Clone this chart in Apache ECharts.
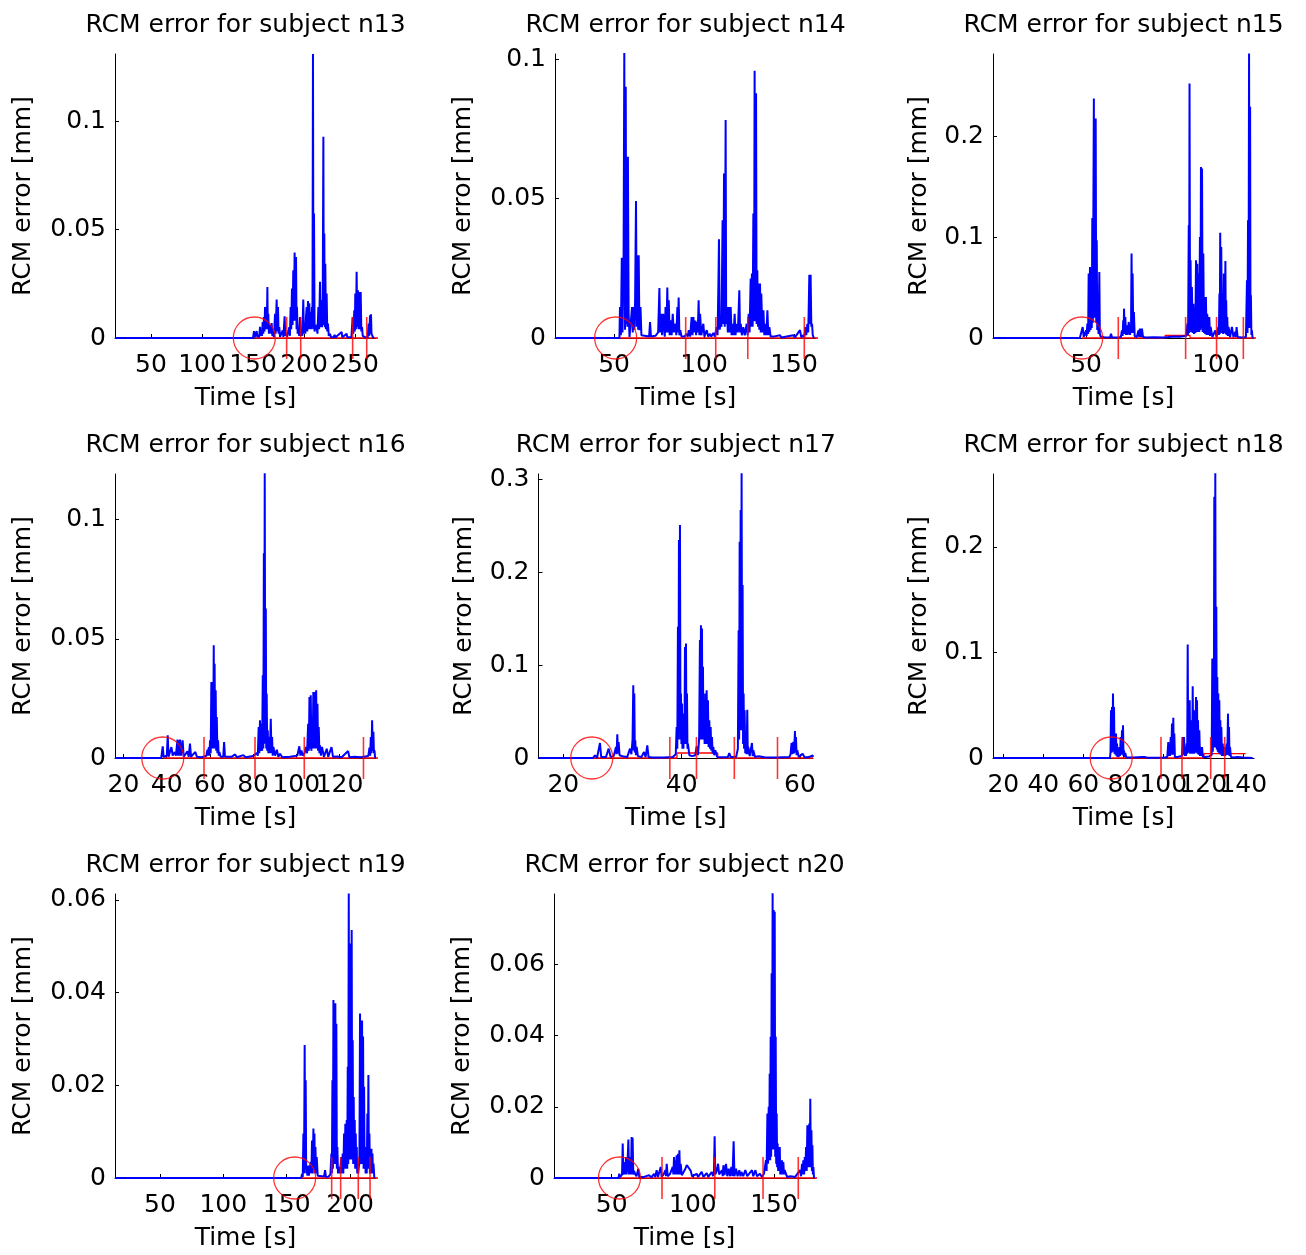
<!DOCTYPE html>
<html>
<head>
<meta charset="utf-8">
<script src="https://cdn.jsdelivr.net/npm/echarts@6/dist/echarts.min.js"></script>
<style>
  html, body { margin: 0; padding: 0; background: #ffffff; }
  #chart { width: 1306px; height: 1255px; }
</style>
</head>
<body>
<div id="chart"></div>
<script>
// ---- RCM error traces, [time s, error mm] ----
const n13 = [[14.7,0],[150,0],[151.0,0.0032],[151.6,0.0003],[152.3,0.001],[153.0,0.0002],[153.6,0.0032],[154.3,0.0003],[155.2,0.0015],[156,0.0003],[156.9,0.0051],[157.5,0.001],[158.2,0.003],[158.8,0.001],[159.5,0.0074],[160.1,0.002],[160.8,0.0097],[161.3,0.003],[161.8,0.0143],[162.4,0.004],[163.0,0.0143],[163.5,0.004],[164.1,0.0235],[164.5,0.004],[165.0,0.0112],[165.6,0.002],[166.2,0.006],[166.7,0.0051],[167.4,0.002],[168.3,0.0069],[169,0.001],[169.8,0.002],[170.6,0.0005],[171.6,0.0112],[172.2,0.002],[173.2,0.0177],[173.8,0.003],[174.5,0.0143],[175.1,0.002],[175.8,0.005],[176.5,0.0005],[177.5,0.001],[179.1,0.0035],[179.8,0.0005],[181.0,0.01],[181.6,0.001],[182.5,0.002],[183.5,0.0005],[184.5,0.003],[185.6,0.005],[186.2,0.001],[186.9,0.0143],[187.5,0.004],[188.2,0.0228],[188.8,0.006],[189.5,0.0312],[190.1,0.008],[190.8,0.0394],[191.5,0.008],[192.2,0.0374],[192.7,0.004],[193.1,0.0143],[193.8,0.002],[194.5,0.005],[195.3,0.001],[196.1,0.0097],[196.8,0.001],[197.6,0.004],[198.4,0.001],[199.3,0.0177],[199.9,0.002],[200.6,0.007],[201.3,0.002],[202.0,0.01],[202.6,0.0143],[203.2,0.003],[203.9,0.0171],[204.5,0.004],[205.2,0.016],[205.8,0.004],[206.5,0.012],[207.2,0.004],[207.8,0.0143],[208.3,0.005],[208.8,0.131],[209.3,0.004],[209.8,0.0574],[210.4,0.003],[211.3,0.006],[212.4,0.005],[213.2,0.002],[214.1,0.0143],[214.8,0.004],[215.7,0.0259],[216.3,0.005],[217.0,0.0174],[217.6,0.005],[218.3,0.01],[219.0,0.0928],[219.4,0.006],[219.9,0.0482],[220.4,0.005],[220.9,0.0343],[221.5,0.004],[222.2,0.0205],[222.8,0.003],[223.5,0.0066],[224.3,0.001],[225.5,0.002],[226.5,0.0003],[229,0.0003],[230,0.0015],[231,0.0003],[236.9,0.0028],[237.6,0.0003],[239.5,0.0006],[241.8,0.002],[242.5,0.0003],[246.5,0.0005],[247.7,0.0097],[248.4,0.002],[249.3,0.0128],[249.8,0.003],[250.3,0.0205],[250.9,0.004],[251.6,0.0305],[252.2,0.005],[252.9,0.022],[253.5,0.004],[254.2,0.0212],[254.9,0.004],[255.6,0.0212],[256.2,0.003],[256.9,0.005],[257.6,0.001],[258.8,0.0015],[260,0.0003],[261.5,0.0008],[262.5,0.0003],[263.4,0.0066],[264.0,0.001],[264.7,0.0105],[265.2,0.002],[265.7,0.0109],[266.2,0.002],[266.7,0.0025],[267.5,0.0005],[268.6,0]];

const n14 = [[17.2,0],[50.0,0],[50.4,0.0006],[51,0],[53.0,0],[53.3,0.0111],[53.8,0.001],[54.3,0.0288],[54.7,0.002],[55.3,0.0288],[55.7,0.1023],[56.1,0.003],[56.5,0.0901],[56.8,0.005],[57.1,0.065],[57.4,0.004],[57.7,0.065],[58.1,0.0087],[58.6,0.0004],[59.5,0.001],[60.0,0.0111],[60.4,0.002],[60.9,0.0111],[61.3,0.003],[61.7,0.0135],[62.2,0.0491],[62.6,0.004],[63.0,0.0297],[63.4,0.003],[63.7,0.0297],[64.1,0.0028],[64.7,0.0111],[65.2,0.001],[66.3,0.0005],[69.5,0.0005],[70.0,0.0057],[70.5,0.0005],[73,0.0008],[74.5,0.002],[75.2,0.0179],[75.6,0.002],[76.2,0.0087],[76.7,0.001],[77.3,0.0087],[77.8,0.0039],[78.2,0.0005],[78.6,0.0111],[79.1,0.002],[79.6,0.0181],[80.0,0.002],[80.4,0.0135],[80.9,0.001],[81.5,0.0063],[82,0.001],[82.6,0.0087],[83.2,0.002],[84.1,0.0051],[84.6,0.001],[85.2,0.0111],[85.5,0.002],[85.9,0.0145],[86.3,0.001],[86.8,0.0028],[87.5,0.0005],[89,0.0005],[90.4,0.0015],[91,0.0005],[91.5,0.0028],[92.3,0.0005],[93.1,0.0075],[93.6,0.001],[94.1,0.0075],[94.6,0.002],[95.2,0.0063],[95.6,0.001],[96.0,0.0057],[96.5,0.002],[97.0,0.0135],[97.4,0.001],[97.8,0.0087],[98.5,0.001],[99.6,0.0051],[100.2,0.0005],[101.5,0.0028],[102.3,0.0005],[103.3,0.0015],[104,0.0005],[105.2,0.0018],[106,0.0005],[107.0,0.0039],[107.5,0.001],[108.0,0.02],[108.3,0.0354],[108.7,0.003],[109.2,0.0057],[109.7,0.004],[110.3,0.0422],[110.7,0.005],[111.1,0.059],[111.5,0.004],[112.0,0.0781],[112.3,0.005],[112.7,0.0111],[113.2,0.002],[113.7,0.0111],[114.2,0.002],[114.8,0.0111],[115.3,0.001],[115.9,0.0051],[116.4,0.001],[117.0,0.0087],[117.5,0.001],[118.1,0.0051],[118.8,0.002],[119.6,0.0171],[120.0,0.002],[120.4,0.0051],[121.0,0.001],[121.8,0.0039],[122.6,0.001],[123.7,0.0051],[124.2,0.001],[124.8,0.0087],[125.3,0.002],[125.9,0.0213],[126.2,0.004],[126.6,0.0231],[127.0,0.004],[127.4,0.0446],[127.8,0.006],[128.1,0.0958],[128.5,0.006],[128.9,0.0877],[129.2,0.005],[129.6,0.0243],[130.0,0.004],[130.3,0.0195],[130.7,0.003],[131.1,0.0195],[131.5,0.002],[131.8,0.0159],[132.4,0.002],[133.0,0.0099],[133.5,0.001],[134.1,0.0051],[134.6,0.001],[135.2,0.0099],[135.7,0.001],[136.3,0.0039],[137,0.0005],[137.4,0.001],[138.5,0.0005],[142.2,0.001],[143,0.0002],[149.6,0.001],[150.5,0.0002],[153.3,0.0028],[154,0.0003],[155.2,0.001],[155.7,0.0002],[156.3,0.0039],[156.8,0.001],[157.4,0.0051],[157.9,0.002],[158.5,0.0227],[158.8,0.005],[159.2,0.0227],[159.6,0.004],[160.0,0.0051],[160.4,0.001],[160.7,0.0004],[161,0]];

const n15 = [[14.2,0],[47.6,0],[48.3,0.001],[48.7,0.0109],[49.1,0.001],[49.6,0.002],[50.0,0.0076],[50.2,0.002],[50.5,0.0142],[50.8,0.004],[51.0,0.0638],[51.25,0.006],[51.5,0.0704],[51.75,0.008],[52.0,0.044],[52.2,0.01],[52.4,0.119],[52.6,0.015],[52.8,0.119],[53.0,0.2374],[53.15,0.02],[53.3,0.163],[53.5,0.02],[53.7,0.2176],[53.9,0.015],[54.1,0.0969],[54.3,0.008],[54.5,0.024],[54.8,0.004],[55.1,0.0655],[55.3,0.004],[55.6,0.0015],[57,0.0008],[59.2,0.0005],[59.6,0.0043],[60,0.0005],[62.5,0.0005],[63.4,0.001],[63.8,0.0076],[64.05,0.002],[64.3,0.0175],[64.45,0.004],[64.6,0.0291],[64.85,0.004],[65.1,0.0208],[65.35,0.003],[65.6,0.0126],[66.0,0.003],[66.4,0.0159],[66.9,0.003],[67.3,0.01],[67.5,0.0837],[67.7,0.005],[67.9,0.0638],[68.15,0.005],[68.4,0.0258],[68.7,0.002],[69.5,0.001],[70.2,0.0076],[70.45,0.001],[70.7,0.0093],[71.1,0.001],[71.5,0.0093],[71.9,0.001],[73,0.0005],[76,0.0008],[80,0.0005],[84,0.0015],[86,0.0012],[88.5,0.002],[89.0,0.0142],[89.25,0.003],[89.5,0.1118],[89.65,0.005],[89.8,0.2523],[90.0,0.008],[90.2,0.077],[90.45,0.006],[90.7,0.0506],[91.0,0.005],[91.3,0.034],[91.55,0.004],[91.8,0.0307],[92.05,0.005],[92.3,0.077],[92.55,0.006],[92.8,0.0737],[93.05,0.006],[93.3,0.0638],[93.55,0.006],[93.8,0.1002],[94.0,0.008],[94.2,0.1696],[94.4,0.01],[94.6,0.168],[94.85,0.006],[95.1,0.0837],[95.35,0.005],[95.6,0.0407],[95.85,0.004],[96.1,0.0407],[96.35,0.003],[96.6,0.024],[97.0,0.003],[97.4,0.0208],[97.65,0.002],[97.9,0.0109],[98.6,0.001],[99.7,0.0076],[100.2,0.001],[100.9,0.0109],[101.1,0.003],[101.3,0.044],[101.45,0.004],[101.6,0.1042],[101.8,0.006],[102.0,0.0903],[102.25,0.005],[102.5,0.044],[102.75,0.004],[103.0,0.0638],[103.3,0.005],[103.6,0.0764],[103.75,0.004],[103.9,0.0374],[104.1,0.003],[104.3,0.0208],[104.55,0.002],[104.8,0.0109],[105.4,0.001],[106.1,0.0109],[106.7,0.001],[107.4,0.006],[107.65,0.001],[107.9,0.0109],[108.3,0.001],[110,0.0005],[111.5,0.001],[111.9,0.0572],[112.1,0.005],[112.3,0.1167],[112.5,0.01],[112.7,0.2821],[112.9,0.02],[113.1,0.2292],[113.25,0.01],[113.4,0.0423],[113.6,0.003],[113.8,0.0076],[114.0,0.001],[114.3,0]];

const n16 = [[16.1,0],[37.5,0],[37.9,0.0005],[38.2,0.0049],[38.6,0.0005],[39.5,0.001],[40.1,0.001],[40.5,0.0095],[40.9,0.0005],[41.6,0.001],[42.2,0.0046],[42.8,0.001],[43.7,0.0025],[44.3,0.001],[45.0,0.0077],[45.3,0.001],[45.6,0.0074],[45.9,0.001],[46.2,0.0077],[46.7,0.001],[47.4,0.0074],[47.9,0.0005],[48.8,0.001],[49.6,0.0028],[50.2,0.0005],[50.8,0.006],[51.3,0.0005],[52.2,0.0015],[53.3,0.0025],[54,0.0005],[56,0.0003],[58.3,0.0008],[58.9,0.0035],[59.2,0.001],[59.5,0.0046],[59.8,0.001],[60.1,0.0074],[60.4,0.002],[60.7,0.0319],[61.0,0.004],[61.3,0.0319],[61.55,0.004],[61.8,0.0473],[62.0,0.005],[62.2,0.0396],[62.45,0.004],[62.7,0.0284],[62.95,0.003],[63.2,0.0172],[63.5,0.002],[63.8,0.0074],[64.1,0.001],[64.4,0.0025],[65,0.0005],[66.2,0.0005],[66.6,0.0067],[67,0.0005],[70,0.0005],[71.7,0.0015],[72.5,0.0003],[75.5,0.0012],[76.5,0.0003],[80,0.0008],[81.7,0.0021],[82.2,0.001],[82.6,0.013],[82.9,0.002],[83.2,0.0158],[83.55,0.003],[83.9,0.0144],[84.2,0.003],[84.5,0.0347],[84.75,0.004],[85.0,0.0859],[85.2,0.006],[85.4,0.1195],[85.65,0.006],[85.9,0.0627],[86.1,0.004],[86.3,0.027],[86.55,0.003],[86.8,0.0116],[87.1,0.002],[87.4,0.0088],[87.8,0.002],[88.2,0.0165],[88.5,0.002],[88.8,0.0088],[89.1,0.001],[89.4,0.0046],[90.2,0.001],[91.0,0.0035],[91.7,0.0005],[92.5,0.0018],[93.5,0.0003],[97,0.0005],[100.5,0.001],[101.4,0.0049],[101.9,0.001],[102.4,0.0032],[103,0.001],[103.8,0.002],[104.5,0.0046],[105.0,0.002],[105.5,0.0144],[105.8,0.003],[106.1,0.0256],[106.4,0.004],[106.7,0.0263],[107.0,0.003],[107.3,0.0158],[107.6,0.004],[107.9,0.0277],[108.2,0.004],[108.5,0.0277],[108.85,0.004],[109.2,0.0284],[109.5,0.004],[109.8,0.0228],[110.1,0.003],[110.4,0.013],[110.7,0.002],[111.0,0.0053],[111.4,0.001],[111.9,0.0046],[112.8,0.0005],[114.1,0.0039],[114.8,0.0005],[116.3,0.0046],[117,0.0005],[119,0.0006],[121,0.0003],[124.0,0.0029],[124.6,0.0003],[127,0.0005],[130,0.0003],[133.3,0.0008],[133.9,0.0043],[134.2,0.001],[134.5,0.0088],[134.8,0.002],[135.1,0.0158],[135.4,0.003],[135.7,0.011],[135.95,0.002],[136.2,0.0032],[136.5,0]];

const n17 = [[15.8,0],[19.8,0],[20.0,0.0008],[20.2,0],[25.0,0],[25.35,0.0029],[25.7,0.0003],[26.0,0.001],[26.19,0.0162],[26.4,0.001],[27.2,0.001],[27.66,0.0101],[28.0,0.001],[28.5,0.002],[28.9,0.0119],[29.0,0.004],[29.12,0.0255],[29.23,0.005],[29.35,0.0173],[29.5,0.003],[29.8,0.004],[30.2,0.0015],[30.8,0.001],[31.26,0.0101],[31.5,0.004],[31.7,0.02],[31.82,0.0784],[31.9,0.008],[31.99,0.0694],[32.08,0.006],[32.16,0.0191],[32.27,0.003],[32.39,0.0119],[32.6,0.002],[33.2,0.001],[33.63,0.0065],[33.9,0.001],[34.19,0.0137],[34.4,0.001],[35,0.0005],[37,0.0005],[38.5,0.001],[39.0,0.004],[39.15,0.0334],[39.26,0.01],[39.37,0.1413],[39.45,0.02],[39.54,0.2348],[39.62,0.03],[39.71,0.251],[39.8,0.02],[39.88,0.0694],[39.96,0.015],[40.05,0.0586],[40.13,0.01],[40.22,0.0263],[40.3,0.01],[40.39,0.0478],[40.47,0.015],[40.56,0.1197],[40.64,0.02],[40.73,0.1233],[40.81,0.015],[40.9,0.0694],[40.98,0.01],[41.06,0.0155],[41.3,0.003],[41.8,0.002],[42.3,0.003],[42.53,0.0126],[42.75,0.003],[42.95,0.02],[43.09,0.127],[43.17,0.02],[43.26,0.1431],[43.34,0.025],[43.43,0.1395],[43.51,0.02],[43.6,0.0982],[43.68,0.02],[43.77,0.0478],[43.88,0.015],[43.99,0.0694],[44.1,0.015],[44.22,0.073],[44.33,0.015],[44.44,0.0622],[44.55,0.012],[44.67,0.0406],[44.78,0.01],[44.9,0.0334],[45.0,0.008],[45.12,0.0227],[45.23,0.005],[45.35,0.0119],[45.5,0.003],[45.68,0.0083],[46,0.001],[47,0.0008],[47.8,0.001],[48.05,0.0054],[48.3,0.001],[49.2,0.001],[49.5,0.01],[49.63,0.1377],[49.72,0.02],[49.8,0.233],[49.88,0.03],[49.97,0.2672],[50.05,0.03],[50.13,0.3067],[50.22,0.03],[50.3,0.1863],[50.38,0.015],[50.47,0.0694],[50.55,0.01],[50.64,0.0514],[50.75,0.005],[50.87,0.0155],[50.98,0.004],[51.09,0.0521],[51.17,0.004],[51.26,0.0119],[51.5,0.002],[51.88,0.0162],[52.0,0.002],[52.11,0.0083],[52.4,0.001],[53,0.002],[54,0.0008],[56,0.0005],[58.2,0.001],[58.4,0.004],[58.58,0.0162],[58.72,0.004],[58.87,0.0173],[59.0,0.005],[59.15,0.0291],[59.23,0.006],[59.32,0.0227],[59.43,0.003],[59.54,0.0083],[59.8,0.001],[60.44,0.0047],[60.8,0.0005],[61.5,0.001],[62.13,0.0029],[62.2,0.001]];

const n18 = [[14.85,0],[73.3,0],[73.6,0.005],[73.85,0.0452],[74.1,0.005],[74.35,0.0483],[74.6,0.006],[74.85,0.061],[75.1,0.006],[75.35,0.0483],[75.6,0.004],[75.85,0.0231],[76.1,0.003],[76.35,0.0231],[76.6,0.002],[76.85,0.0136],[77.1,0.001],[77.35,0.0041],[77.7,0.001],[78.0,0.0104],[78.35,0.002],[78.7,0.0199],[79.0,0.003],[79.35,0.0262],[79.6,0.003],[79.85,0.031],[80.1,0.002],[80.35,0.0073],[80.7,0.001],[81.0,0.0047],[81.5,0.0005],[85,0.0005],[89.5,0.001],[90.0,0.0025],[90.6,0.001],[92,0.0003],[100,0.0003],[102,0.001],[102.5,0.0152],[102.75,0.002],[103.0,0.0104],[103.35,0.002],[103.7,0.0199],[104.0,0.003],[104.35,0.0326],[104.7,0.003],[105.0,0.0382],[105.25,0.003],[105.5,0.0231],[105.8,0.001],[107,0.001],[109.3,0.002],[109.85,0.0199],[110.1,0.003],[110.35,0.0199],[110.7,0.002],[111.0,0.0104],[111.35,0.002],[111.7,0.0136],[111.95,0.004],[112.2,0.1074],[112.45,0.005],[112.7,0.0357],[112.95,0.005],[113.2,0.0547],[113.45,0.004],[113.7,0.0167],[113.95,0.004],[114.2,0.0357],[114.45,0.005],[114.7,0.0679],[114.95,0.004],[115.2,0.0294],[115.45,0.004],[115.7,0.0452],[116.0,0.005],[116.35,0.0578],[116.6,0.005],[116.85,0.0547],[117.1,0.004],[117.35,0.0357],[117.7,0.003],[118.0,0.0262],[118.35,0.002],[118.7,0.0104],[119.0,0.002],[119.35,0.0104],[119.8,0.001],[121,0.001],[123,0.0015],[124.2,0.003],[124.5,0.0942],[124.75,0.006],[125.0,0.0942],[125.25,0.01],[125.5,0.2474],[125.75,0.01],[126.0,0.2695],[126.25,0.01],[126.5,0.1431],[126.75,0.008],[127.0,0.0768],[127.25,0.006],[127.5,0.061],[127.75,0.005],[128.0,0.0547],[128.25,0.004],[128.5,0.0357],[128.75,0.003],[129.0,0.0294],[129.35,0.002],[129.7,0.0136],[130.0,0.002],[130.35,0.0104],[131.0,0.002],[131.7,0.0136],[132.0,0.003],[132.35,0.042],[132.6,0.003],[132.85,0.0294],[133.1,0.002],[133.35,0.0104],[133.8,0.001],[135,0.0005],[137,0.001],[140,0.0005],[144.7,0]];

const n19 = [[14.5,0],[161.5,0],[162.1,0.0009],[162.7,0.0002],[163.2,0.0096],[163.7,0.001],[164.2,0.0287],[164.6,0.002],[165.0,0.0211],[165.4,0.001],[165.8,0.0017],[166.4,0.0005],[166.9,0.0027],[167.5,0.0005],[168.2,0.002],[169.0,0.0035],[169.5,0.001],[170.0,0.0081],[170.5,0.001],[171.1,0.0107],[171.5,0.002],[171.9,0.0096],[172.3,0.001],[172.7,0.0067],[173.2,0.001],[173.7,0.0045],[174.5,0.0005],[176,0.0002],[179.5,0.0003],[180.3,0.0017],[181,0.0002],[183,0.0003],[184.5,0.0008],[185.3,0.0053],[185.7,0.001],[186.1,0.0211],[186.5,0.002],[186.9,0.0384],[187.3,0.003],[187.7,0.0377],[188.05,0.003],[188.4,0.0377],[188.8,0.003],[189.2,0.0333],[189.6,0.002],[190.0,0.0067],[190.5,0.001],[191.1,0.0024],[192,0.001],[193.2,0.0045],[193.7,0.001],[194.2,0.0053],[194.7,0.001],[195.3,0.0096],[195.8,0.002],[196.3,0.0117],[196.8,0.002],[197.4,0.0125],[197.8,0.002],[198.2,0.024],[198.6,0.003],[199.0,0.0614],[199.4,0.004],[199.8,0.0506],[200.2,0.004],[200.6,0.029],[200.95,0.004],[201.3,0.0535],[201.7,0.004],[202.1,0.0297],[202.5,0.003],[202.9,0.0175],[203.3,0.003],[203.7,0.0125],[204.1,0.002],[204.5,0.0096],[204.9,0.002],[205.3,0.0067],[205.7,0.001],[206.1,0.0031],[206.5,0.001],[206.9,0.0024],[207.4,0.003],[207.9,0.0355],[208.3,0.003],[208.7,0.034],[209.1,0.003],[209.5,0.034],[209.9,0.003],[210.3,0.0305],[210.7,0.002],[211.1,0.0197],[211.5,0.002],[211.9,0.0067],[212.3,0.001],[212.7,0.0045],[213.2,0.001],[213.7,0.0139],[214.1,0.002],[214.5,0.0222],[214.9,0.002],[215.3,0.0096],[215.7,0.001],[216.1,0.0031],[216.5,0.001],[216.9,0.0063],[217.3,0.001],[217.7,0.0053],[218.1,0.001],[218.5,0.0031],[219.2,0]];

const n20 = [[14.5,0],[49.6,0],[50.0,0.0005],[50.4,0],[54.2,0],[54.7,0.0012],[55.2,0.0002],[56.4,0.001],[56.8,0.0097],[57.2,0.001],[57.7,0.002],[58.2,0.0045],[58.5,0.001],[58.8,0.0059],[59.2,0.001],[59.7,0.003],[60.3,0.0108],[60.7,0.001],[61.1,0.004],[61.5,0.0059],[61.9,0.001],[62.3,0.0115],[62.6,0.001],[62.9,0.0113],[63.3,0.001],[63.8,0.002],[64.4,0.0012],[65.3,0.0005],[66.4,0.0026],[67,0.0003],[70,0.0003],[73,0.0008],[74.5,0.0002],[76.1,0.0012],[76.8,0.0003],[77.7,0.0022],[78.5,0.0003],[80.2,0.0031],[80.8,0.0003],[82,0.001],[83.1,0.0022],[83.5,0.0005],[83.9,0.004],[84.5,0.0005],[86,0.0012],[87.6,0.0031],[88.0,0.001],[88.4,0.0059],[88.8,0.001],[89.2,0.005],[89.6,0.001],[90.0,0.0064],[90.4,0.001],[90.9,0.0068],[91.3,0.001],[91.7,0.0078],[92.1,0.001],[92.5,0.004],[93.2,0.0008],[94.2,0.0005],[95.4,0.0026],[96.2,0.0036],[97.4,0.0029],[98.7,0.002],[99.5,0.0005],[101,0.0008],[102.3,0.0012],[103.2,0.0003],[105.4,0.0017],[106.5,0.0003],[108.5,0.0014],[109.5,0.0003],[111.6,0.0017],[112.5,0.0005],[113.0,0.002],[113.4,0.0117],[113.8,0.001],[114.7,0.002],[115.5,0.004],[116.2,0.001],[117.1,0.0015],[117.9,0.0022],[118.4,0.0005],[118.8,0.0036],[119.5,0.0008],[120.4,0.004],[121.2,0.0005],[122.1,0.0026],[122.9,0.0005],[123.7,0.0031],[124.4,0.0005],[125.1,0.0103],[125.6,0.0005],[126.6,0.0026],[127.5,0.0005],[128.6,0.0022],[129.3,0.0005],[129.9,0.0017],[131,0.0005],[132.3,0.0022],[133.5,0.0005],[136.4,0.0022],[137.2,0.0005],[138.5,0.0022],[139.5,0.0005],[141.3,0.0012],[142.5,0.0003],[143.8,0.0012],[144.5,0.001],[145.0,0.005],[145.4,0.002],[145.9,0.0181],[146.3,0.004],[146.7,0.02],[147.0,0.005],[147.3,0.0293],[147.6,0.005],[147.9,0.0397],[148.2,0.006],[148.5,0.0575],[148.8,0.008],[149.1,0.08],[149.45,0.008],[149.8,0.0753],[150.1,0.008],[150.4,0.0748],[150.7,0.006],[151.0,0.0397],[151.3,0.004],[151.6,0.0181],[151.9,0.003],[152.2,0.0097],[152.5,0.002],[152.8,0.0078],[153.15,0.002],[153.5,0.0087],[153.8,0.001],[154.1,0.0031],[154.5,0.001],[154.9,0.005],[155.3,0.001],[155.7,0.0045],[156.1,0.001],[156.5,0.0022],[158,0.0003],[160,0.0005],[163,0.0003],[166.0,0.0022],[166.6,0.0005],[167.2,0.004],[167.6,0.001],[168.0,0.005],[168.5,0.001],[168.9,0.0059],[169.3,0.002],[169.7,0.0087],[170.1,0.002],[170.5,0.0148],[170.8,0.003],[171.1,0.0097],[171.4,0.003],[171.7,0.0153],[172.0,0.003],[172.3,0.0223],[172.65,0.003],[173.0,0.0134],[173.3,0.002],[173.6,0.0092],[173.9,0.001],[174.2,0.0031],[174.6,0]];

// ---- phase markers: start circle, boundary ticks, reference line ----
const n13Circle = 151.3, n13Ticks = [183.0, 196.8, 247.7, 261.5], n13Ref = [[151.3,0],[281.4,0]];
const n14Circle = 50.9,  n14Ticks = [89.8, 106.5, 124.3, 155.7], n14Ref = [[50.9,0],[167.8,0]];
const n15Circle = 48.3,  n15Ticks = [62.4, 88.3, 100.2, 110.5], n15Ref = [[48.3,0],[80.4,0],[80.4,0.0026],[90,0.0026],[90,0],[118.4,0]];
const n16Circle = 38.2,  n16Ticks = [57.3, 80.9, 103.7, 131.1], n16Ref = [[38.2,0],[140.6,0]];
const n17Circle = 24.8,  n17Ticks = [38.0, 42.5, 48.9, 56.2], n17Ref = [[24.8,0],[39.2,0],[39.2,0.0054],[46.1,0.0054],[46.1,0],[62.2,0]];
const n18Circle = 73.95, n18Ticks = [98.85, 109.35, 123.7, 130.7], n18Ref = [[73.95,0],[120.35,0],[120.35,0.0042],[141.2,0.0042]];
const n19Circle = 156.3, n19Ticks = [185.5, 192.6, 206.5, 215.8], n19Ref = [[156.3,0],[232.9,0]];
const n20Circle = 54.8,  n20Ticks = [81.0, 113.5, 143.2, 164.9], n20Ref = [[54.8,0],[177.9,0]];

// ---- tick labels ----
const n13XTicks = [50,100,150,200,250], n13YTicks = [0,0.05,0.1];
const n14XTicks = [50,100,150],         n14YTicks = [0,0.05,0.1];
const n15XTicks = [50,100],             n15YTicks = [0,0.1,0.2];
const n16XTicks = [20,40,60,80,100,120], n16YTicks = [0,0.05,0.1];
const n17XTicks = [20,40,60],           n17YTicks = [0,0.1,0.2,0.3];
const n18XTicks = [20,40,60,80,100,120,140], n18YTicks = [0,0.1,0.2];
const n19XTicks = [50,100,150,200],     n19YTicks = [0,0.02,0.04,0.06];
const n20XTicks = [50,100,150],         n20YTicks = [0,0.02,0.04,0.06];

const FONT = 'DejaVu Sans';
const FONT_SIZE = 25;
const BLUE = '#0000ff';
const RED = '#ff0000';
const PLOT_H = 284;

const panels = [
  { title: 'RCM error for subject n13', trace: n13, circle: n13Circle, ticks: n13Ticks, ref: n13Ref, xt: n13XTicks, yt: n13YTicks, xMin: 14.7,  xMax: 270.6, yMax: 0.131,   left: 115,   top: 54,  width: 261,   yGap: 79 },
  { title: 'RCM error for subject n14', trace: n14, circle: n14Circle, ticks: n14Ticks, ref: n14Ref, xt: n14XTicks, yt: n14YTicks, xMin: 17.2,  xMax: 162.2, yMax: 0.1018,  left: 555,   top: 54,  width: 261,   yGap: 79 },
  { title: 'RCM error for subject n15', trace: n15, circle: n15Circle, ticks: n15Ticks, ref: n15Ref, xt: n15XTicks, yt: n15YTicks, xMin: 14.2,  xMax: 114.6, yMax: 0.2815,  left: 993,   top: 54,  width: 261,   yGap: 61 },
  { title: 'RCM error for subject n16', trace: n16, circle: n16Circle, ticks: n16Ticks, ref: n16Ref, xt: n16XTicks, yt: n16YTicks, xMin: 16.1,  xMax: 136.9, yMax: 0.1192,  left: 115,   top: 474, width: 261,   yGap: 79 },
  { title: 'RCM error for subject n17', trace: n17, circle: n17Circle, ticks: n17Ticks, ref: n17Ref, xt: n17XTicks, yt: n17YTicks, xMin: 15.8,  xMax: 62.2,  yMax: 0.306,   left: 538.5, top: 474, width: 274.5, yGap: 62 },
  { title: 'RCM error for subject n18', trace: n18, circle: n18Circle, ticks: n18Ticks, ref: n18Ref, xt: n18XTicks, yt: n18YTicks, xMin: 14.85, xMax: 145.35, yMax: 0.2689, left: 993,   top: 474, width: 261,   yGap: 61 },
  { title: 'RCM error for subject n19', trace: n19, circle: n19Circle, ticks: n19Ticks, ref: n19Ref, xt: n19XTicks, yt: n19YTicks, xMin: 14.5,  xMax: 220.5, yMax: 0.06127, left: 115,   top: 894, width: 261,   yGap: 79 },
  { title: 'RCM error for subject n20', trace: n20, circle: n20Circle, ticks: n20Ticks, ref: n20Ref, xt: n20XTicks, yt: n20YTicks, xMin: 14.5,  xMax: 175.2, yMax: 0.0798,  left: 554,   top: 894, width: 261,   yGap: 79 }
];

const textStyle = { fontFamily: FONT, fontSize: FONT_SIZE, color: '#000', fontWeight: 'normal' };
const fmt = v => String(+(+v).toFixed(4));
const labelStyle = { fontFamily: FONT, fontSize: FONT_SIZE, color: '#000' };

// Tick labels are split over two coincident bottom axes (alternate values),
// so touching labels such as "80100120140" are all kept.
const xAxes = [];
panels.forEach((p, i) => {
  const even = p.xt.filter((v, k) => k % 2 === 0);
  const odd = p.xt.filter((v, k) => k % 2 === 1);
  xAxes.push({
    type: 'value', gridIndex: i, position: 'bottom', min: p.xMin, max: p.xMax,
    name: 'Time [s]', nameLocation: 'middle', nameGap: 48, nameTextStyle: textStyle,
    axisLine: { show: true, onZero: false, lineStyle: { color: '#000', width: 1 } },
    axisTick: { show: true, inside: true, length: 4, customValues: p.xt, lineStyle: { color: '#000', width: 1 } },
    axisLabel: Object.assign({ customValues: even, formatter: fmt, margin: 15, showMinLabel: true, showMaxLabel: true }, labelStyle),
    splitLine: { show: false }
  });
  xAxes.push({
    type: 'value', gridIndex: i, position: 'bottom', offset: 0, min: p.xMin, max: p.xMax,
    axisLine: { show: false, onZero: false },
    axisTick: { show: false },
    axisLabel: Object.assign({ show: odd.length > 0, customValues: odd.length ? odd : [p.xMin], formatter: fmt, margin: 15, showMinLabel: true, showMaxLabel: true }, labelStyle),
    splitLine: { show: false }
  });
});

const option = {
  animation: false,
  backgroundColor: '#ffffff',
  title: panels.map(p => ({
    text: p.title,
    left: p.left + p.width / 2,
    top: p.top - 41,
    textAlign: 'center',
    padding: 0,
    textStyle: textStyle
  })),
  grid: panels.map(p => ({ left: p.left, top: p.top, width: p.width, height: PLOT_H, containLabel: false })),
  xAxis: xAxes,
  yAxis: panels.map((p, i) => ({
    type: 'value',
    gridIndex: i,
    min: 0,
    max: p.yMax,
    name: 'RCM error [mm]',
    nameLocation: 'middle',
    nameGap: p.yGap,
    nameTextStyle: textStyle,
    axisLine: { show: true, lineStyle: { color: '#000', width: 1 } },
    axisTick: { show: true, inside: true, length: 4, customValues: p.yt, lineStyle: { color: '#000', width: 1 } },
    axisLabel: Object.assign({ customValues: p.yt, formatter: fmt, margin: 9, showMinLabel: true, showMaxLabel: true }, labelStyle),
    splitLine: { show: false }
  })),
  series: []
};

panels.forEach((p, i) => {
  const xi = 2 * i;
  option.series.push({
    type: 'line', xAxisIndex: xi, yAxisIndex: i, data: p.ref,
    showSymbol: false, clip: false, z: 1, silent: true,
    lineStyle: { color: RED, width: 1.3 }
  });
  option.series.push({
    type: 'line', xAxisIndex: xi, yAxisIndex: i, data: p.trace,
    showSymbol: false, clip: true, z: 2, silent: true,
    lineStyle: { color: BLUE, width: 2, join: 'bevel' }
  });
  option.series.push({
    type: 'scatter', xAxisIndex: xi, yAxisIndex: i,
    data: p.ticks.map(t => [t, 0]),
    symbol: 'rect', symbolSize: [1.6, 42], clip: false, z: 3, silent: true,
    itemStyle: { color: RED }
  });
  option.series.push({
    type: 'scatter', xAxisIndex: xi, yAxisIndex: i,
    data: [[p.circle, 0]],
    symbol: 'circle', symbolSize: 42, clip: false, z: 4, silent: true,
    itemStyle: { color: 'rgba(0,0,0,0)', borderColor: RED, borderWidth: 1.3 }
  });
});

const chart = echarts.init(document.getElementById('chart'), null, { renderer: 'canvas' });
chart.setOption(option);
</script>
</body>
</html>
